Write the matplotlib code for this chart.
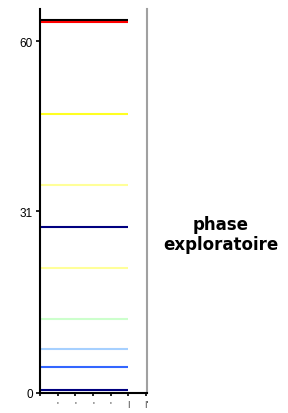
import matplotlib.pyplot as plt

# horizontal levels (y values) and their colours
levels = [63.6, 63.3, 47.6, 35.5, 28.4, 21.4, 12.6, 7.55, 4.4, 0.5]
colors = ["#000000", "#ff0000", "#ffff22", "#ffff99", "#000080",
          "#ffff99", "#ccffcc", "#a6d0ff", "#3366ff", "#000080"]
y_ticks = [0, 31, 60]
x_ticks = [0, 1, 2, 3, 4, 5, 6]
x_labels = ["", "'", "'", "'", "'", "|", "|'"]
label = "phase\nexploratoire"

fig = plt.figure(figsize=(2.88, 4.14), dpi=100)
ax = fig.add_axes([40 / 288, 20 / 414, 107 / 288, 384 / 414])

for y, c in zip(levels, colors):
    ax.plot([0, 5], [y, y], color=c, lw=1.5, solid_capstyle="butt")

ax.set_xlim(0, 6.05)
ax.set_ylim(0, 65.5)

ax.spines["top"].set_visible(False)
ax.spines["left"].set_color("black")
ax.spines["left"].set_linewidth(1.5)
ax.spines["bottom"].set_color("black")
ax.spines["bottom"].set_linewidth(1.5)
ax.spines["right"].set_color("#a0a0a0")
ax.spines["right"].set_linewidth(1.5)

ax.set_yticks(y_ticks)
ax.set_yticklabels([str(t) for t in y_ticks], fontsize=8.5, family="Liberation Sans")
ax.tick_params(axis="y", length=3, width=1.2, pad=2)
ax.set_xticks(x_ticks)
ax.set_xticklabels(x_labels, fontsize=5)
ax.tick_params(axis="x", length=2, width=1.2, pad=3)

fig.text(221 / 288, 1 - 235 / 414, label, ha="center", va="center",
         fontsize=12, fontweight="bold", family="DejaVu Sans",
         linespacing=1.2)

fig.savefig("out.png", dpi=100)
